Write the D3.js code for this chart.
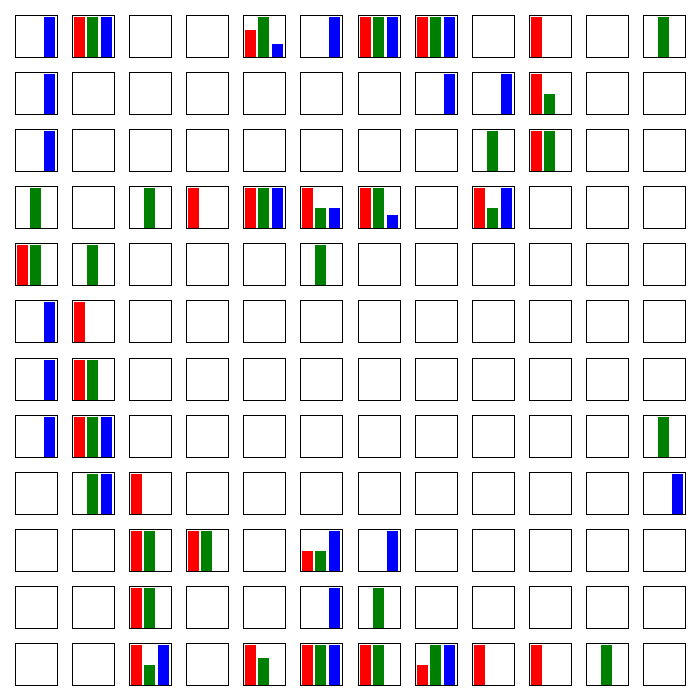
<!DOCTYPE html>
<html>
<head>
<meta charset="utf-8">
<script src="https://cdn.jsdelivr.net/npm/d3@7"></script>
<style>
  html, body { margin: 0; padding: 0; background: #fff; }
  svg { display: block; }
</style>
</head>
<body>
<svg id="chart" width="700" height="700"></svg>
<script>
const series = ["red", "green", "blue"];
const seriesColors = ["#ff0000", "#008000", "#0000ff"];

const redValues = [
  [0,1,0,0,0.67,0,1,1,0,1,0,0],
  [0,0,0,0,0,0,0,0,0,1,0,0],
  [0,0,0,0,0,0,0,0,0,1,0,0],
  [0,0,0,1,1,1,1,0,1,0,0,0],
  [1,0,0,0,0,0,0,0,0,0,0,0],
  [0,1,0,0,0,0,0,0,0,0,0,0],
  [0,1,0,0,0,0,0,0,0,0,0,0],
  [0,1,0,0,0,0,0,0,0,0,0,0],
  [0,0,1,0,0,0,0,0,0,0,0,0],
  [0,0,1,1,0,0.5,0,0,0,0,0,0],
  [0,0,1,0,0,0,0,0,0,0,0,0],
  [0,0,1,0,1,1,1,0.5,1,1,0,0]
];

const greenValues = [
  [0,1,0,0,1,0,1,1,0,0,0,1],
  [0,0,0,0,0,0,0,0,0,0.5,0,0],
  [0,0,0,0,0,0,0,0,1,1,0,0],
  [1,0,1,0,1,0.5,1,0,0.5,0,0,0],
  [1,1,0,0,0,1,0,0,0,0,0,0],
  [0,0,0,0,0,0,0,0,0,0,0,0],
  [0,1,0,0,0,0,0,0,0,0,0,0],
  [0,1,0,0,0,0,0,0,0,0,0,1],
  [0,1,0,0,0,0,0,0,0,0,0,0],
  [0,0,1,1,0,0.5,0,0,0,0,0,0],
  [0,0,1,0,0,0,1,0,0,0,0,0],
  [0,0,0.5,0,0.67,1,1,1,0,0,1,0]
];

const blueValues = [
  [1,1,0,0,0.33,1,1,1,0,0,0,0],
  [1,0,0,0,0,0,0,1,1,0,0,0],
  [1,0,0,0,0,0,0,0,0,0,0,0],
  [0,0,0,0,1,0.5,0.33,0,1,0,0,0],
  [0,0,0,0,0,0,0,0,0,0,0,0],
  [1,0,0,0,0,0,0,0,0,0,0,0],
  [1,0,0,0,0,0,0,0,0,0,0,0],
  [1,1,0,0,0,0,0,0,0,0,0,0],
  [0,1,0,0,0,0,0,0,0,0,0,1],
  [0,0,0,0,0,1,1,0,0,0,0,0],
  [0,0,0,0,0,1,0,0,0,0,0,0],
  [0,0,1,0,0,1,0,1,0,0,0,0]
];

const allSeries = [redValues, greenValues, blueValues];
const nRows = 12, nCols = 12;

const svg = d3.select("#chart");

const gridX = d3.scaleBand().domain(d3.range(nCols)).range([15, 686]).paddingInner(0.247);
const gridY = d3.scaleBand().domain(d3.range(nRows)).range([15, 686]).paddingInner(0.247);

const inX = d3.scaleBand().domain(series).range([2, 40]).paddingInner(0.185).paddingOuter(0);
const inY = d3.scaleLinear().domain([0, 1]).range([42, 2]);

const cells = [];
for (let r = 0; r < nRows; r++) {
  for (let c = 0; c < nCols; c++) {
    cells.push({ r, c, values: series.map((s, k) => ({ s, k, v: allSeries[k][r][c] })) });
  }
}

const cell = svg.selectAll("g.cell").data(cells).join("g")
  .attr("class", "cell")
  .attr("transform", d => `translate(${Math.round(gridX(d.c))},${Math.round(gridY(d.r))})`);

cell.selectAll("rect.bar").data(d => d.values.filter(e => e.v > 0)).join("rect")
  .attr("class", "bar")
  .attr("x", e => Math.round(inX(e.s)))
  .attr("width", Math.round(inX.bandwidth()))
  .attr("y", e => Math.round(inY(e.v)))
  .attr("height", e => Math.round(inY(0)) - Math.round(inY(e.v)))
  .attr("fill", e => seriesColors[e.k]);

cell.append("rect")
  .attr("x", 0.5).attr("y", 0.5)
  .attr("width", 42).attr("height", 42)
  .attr("fill", "none")
  .attr("stroke", "#000")
  .attr("stroke-width", 1);
</script>
</body>
</html>
